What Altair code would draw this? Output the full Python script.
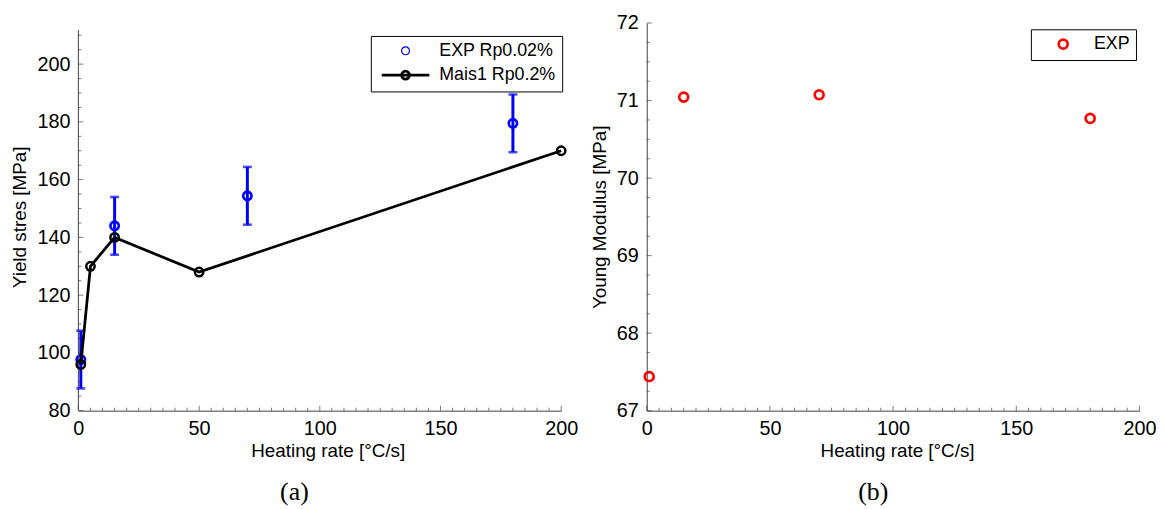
import altair as alt
import pandas as pd

# ---------------- data ----------------
# (a) yield stress
EXP_RATE = [1, 15, 70, 180]
EXP_YIELD = [97.7, 144.0, 154.4, 179.5]
EXP_ERR = [10, 10, 10, 10]
MAIS_RATE = [1, 5, 15, 50, 200]
MAIS_YIELD = [96, 130, 140, 128, 170]
SERIES_A = ["EXP Rp0.02%", "Mais1 Rp0.2%"]

# (b) Young modulus
YM_RATE = [1, 15, 70, 180]
YM_VALUE = [67.44, 71.045, 71.075, 70.77]
SERIES_B = ["EXP"]

# axis ticks
X_TICKS = [0, 50, 100, 150, 200]
X_MINOR = [v for v in range(5, 200, 5) if v % 50]
YA_TICKS = [80, 100, 120, 140, 160, 180, 200]
YA_MINOR = [v for v in range(85, 212, 5) if v % 20]
YA_AXIS_TOP = 211.8
YB_TICKS = [67, 68, 69, 70, 71, 72]
YB_MINOR = [67 + 0.25 * i for i in range(1, 20) if i % 4]

FONT = "Liberation Sans"
AXIS_COL = "#404040"
W_A, W_B, H = 487, 497, 391
MAJ, MIN = 5, 3

LINE_PATH = "M-6,0H6M1,0A1,1,0,1,1,-1,0A1,1,0,1,1,1,0"

exp_df = pd.DataFrame({"x": EXP_RATE, "y": EXP_YIELD,
                       "lo": [v - e for v, e in zip(EXP_YIELD, EXP_ERR)],
                       "hi": [v + e for v, e in zip(EXP_YIELD, EXP_ERR)]})
mais_df = pd.DataFrame({"x": MAIS_RATE, "y": MAIS_YIELD})
ym_df = pd.DataFrame({"x": YM_RATE, "y": YM_VALUE})

xs = alt.Scale(domain=[0, 200], nice=False, zero=False)
ysa = alt.Scale(domain=[80, 80 + H / 2.913], nice=False, zero=False)
ysb = alt.Scale(domain=[67, 72], nice=False, zero=False)


def make_x_axis(shift, width):
    return alt.Axis(values=X_TICKS, title="Heating rate [°C/s]", ticks=False, tickSize=0,
                    grid=False, labelFlush=False, labelPadding=8.5, titlePadding=3,
                    titleX=width / 2 + shift, domainColor=AXIS_COL)


XA_AXIS = make_x_axis(8, W_A)
XB_AXIS = make_x_axis(4, W_B)
YA_AXIS = alt.Axis(values=YA_TICKS, title="Yield stres [MPa]", ticks=False, tickSize=0,
                   grid=False, labelFlush=False, labelPadding=8.5, titlePadding=7,
                   domain=False)
YB_AXIS = alt.Axis(values=YB_TICKS, title="Young Modulus [MPa]", ticks=False, tickSize=0,
                   grid=False, labelFlush=False, labelPadding=8.5, titlePadding=7,
                   domainColor=AXIS_COL)


def xticks(vals, length, axis):
    return alt.Chart(pd.DataFrame({"v": vals})).mark_tick(
        orient="vertical", size=length, thickness=1, color=AXIS_COL
    ).encode(x=alt.X("v:Q", scale=xs, axis=axis), y=alt.value(H - length / 2))


def yticks(vals, length, ys, axis):
    return alt.Chart(pd.DataFrame({"v": vals})).mark_tick(
        orient="horizontal", size=length, thickness=1, color=AXIS_COL
    ).encode(y=alt.Y("v:Q", scale=ys, axis=axis), x=alt.value(length / 2))


def XA(field):
    return alt.X(field, scale=xs, axis=XA_AXIS)


def YA(field):
    return alt.Y(field, scale=ysa, axis=YA_AXIS)


# ---------------- panel (a) ----------------
a_axisline = alt.Chart(pd.DataFrame({"y0": [80], "y1": [YA_AXIS_TOP]})).mark_rule(
    color=AXIS_COL, strokeWidth=1
).encode(x=alt.value(0), y=YA("y0:Q"), y2="y1:Q")

a_bars = alt.Chart(exp_df).mark_rule(color="#0000ff", strokeWidth=3).encode(
    x=XA("x:Q"), y=YA("lo:Q"), y2="hi:Q")
a_cap_lo = alt.Chart(exp_df).mark_tick(orient="horizontal", color="#0000ff", size=9,
                                       thickness=2.6).encode(x=XA("x:Q"), y=YA("lo:Q"))
a_cap_hi = alt.Chart(exp_df).mark_tick(orient="horizontal", color="#0000ff", size=9,
                                       thickness=2.6).encode(x=XA("x:Q"), y=YA("hi:Q"))
a_pts = alt.Chart(exp_df).mark_point(shape="circle", filled=False, color="#0000ff",
                                     strokeWidth=2.6, size=72, opacity=1).encode(
    x=XA("x:Q"), y=YA("y:Q"))
a_line = alt.Chart(mais_df).mark_line(color="black", strokeWidth=2.8).encode(
    x=XA("x:Q"), y=YA("y:Q"))
a_mpts = alt.Chart(mais_df).mark_point(shape="circle", filled=False, color="black",
                                       strokeWidth=2.5, size=72, opacity=1).encode(
    x=XA("x:Q"), y=YA("y:Q"))

leg_a = alt.Legend(title=None, orient="none", legendX=295, legendY=13, padding=6,
                   strokeColor="black", fillColor="white", symbolOffset=20, labelOffset=25,
                   rowPadding=5.6, labelFont=FONT, labelFontSize=18, labelColor="black",
                   symbolSize=64)
a_legend = alt.Chart(pd.DataFrame({"s": SERIES_A})).transform_filter("false").mark_point(
    filled=False, size=64, opacity=1
).encode(
    color=alt.Color("s:N", scale=alt.Scale(domain=SERIES_A, range=["#0000ff", "#000000"]),
                    legend=leg_a),
    shape=alt.Shape("s:N", scale=alt.Scale(domain=SERIES_A, range=["circle", LINE_PATH]),
                    legend=leg_a),
    strokeWidth=alt.StrokeWidth("s:N", scale=alt.Scale(domain=SERIES_A, range=[1.2, 2.8]),
                                legend=leg_a),
)

panel_a = alt.layer(
    a_pts, xticks(X_TICKS, MAJ, XA_AXIS), xticks(X_MINOR, MIN, XA_AXIS),
    yticks(YA_TICKS, MAJ, ysa, YA_AXIS), yticks(YA_MINOR, MIN, ysa, YA_AXIS),
    a_axisline, a_bars, a_cap_lo, a_cap_hi, a_line, a_mpts, a_legend
).properties(
    width=W_A, height=H,
    title=alt.TitleParams("(a)", orient="bottom", anchor="middle", frame="bounds",
                          font="Liberation Serif", fontSize=26, fontWeight="normal",
                          color="black", offset=19)
)

# ---------------- panel (b) ----------------
b_pts = alt.Chart(ym_df).mark_point(shape="circle", filled=False, color="#ff0000",
                                    strokeWidth=2.7, size=81, opacity=1).encode(
    x=alt.X("x:Q", scale=xs, axis=XB_AXIS), y=alt.Y("y:Q", scale=ysb, axis=YB_AXIS))

leg_b = alt.Legend(title=None, orient="none", legendX=387.5, legendY=6.3, padding=6,
                   strokeColor="black", fillColor="white", symbolOffset=17.6,
                   labelOffset=22, labelFont=FONT, labelFontSize=18, labelColor="black",
                   symbolSize=81, symbolStrokeWidth=2.7)
b_legend = alt.Chart(pd.DataFrame({"s": SERIES_B})).transform_filter("false").mark_point(
    filled=False, size=81, opacity=1, shape="circle"
).encode(
    color=alt.Color("s:N", scale=alt.Scale(domain=SERIES_B, range=["#ff0000"]), legend=leg_b),
)

panel_b = alt.layer(
    b_pts, xticks(X_TICKS, MAJ, XB_AXIS), xticks(X_MINOR, MIN, XB_AXIS),
    yticks(YB_TICKS, MAJ, ysb, YB_AXIS), yticks(YB_MINOR, MIN, ysb, YB_AXIS), b_legend
).properties(
    width=W_B, height=H,
    title=alt.TitleParams("(b)", orient="bottom", anchor="middle", frame="bounds",
                          font="Liberation Serif", fontSize=26, fontWeight="normal",
                          color="black", offset=19)
)

chart = alt.hconcat(panel_a, panel_b, spacing=86.3, bounds="flush").resolve_scale(
    color="independent", shape="independent", strokeWidth="independent"
).properties(
    padding={"left": 3, "top": 3, "right": 0, "bottom": 0}, background="white"
).configure_view(stroke=None).configure_axis(
    labelFont=FONT, labelFontSize=20, labelColor="black",
    titleFont=FONT, titleFontSize=19, titleFontWeight="normal", titleColor="black",
)

chart.save("out.html", embed_options={"renderer": "svg", "actions": False})
